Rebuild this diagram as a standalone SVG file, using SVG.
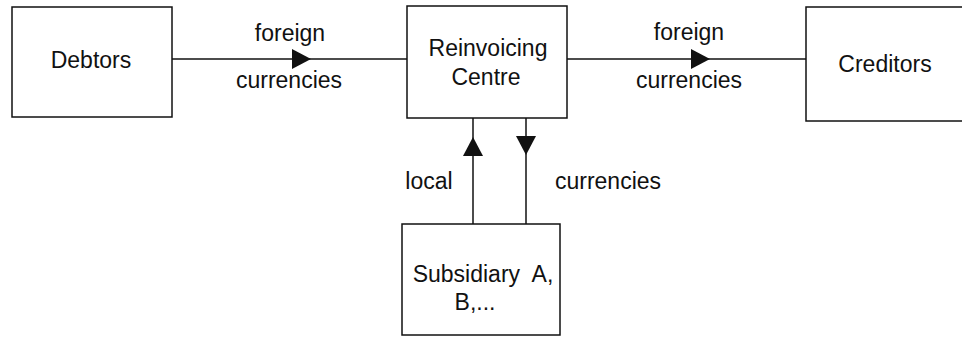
<svg xmlns="http://www.w3.org/2000/svg" width="962" height="337" viewBox="0 0 962 337">
<style>
.box{fill:#fff;stroke:#111;stroke-width:1.5}
.ln{fill:none;stroke:#111;stroke-width:1.5;marker-mid:url(#ah)}
text{font-family:"Liberation Sans",Arial,Helvetica,sans-serif;font-size:23px;fill:#111;text-anchor:middle}
</style>
<defs>
<marker id="ah" viewBox="0 0 19 20" refX="19" refY="10" markerWidth="19" markerHeight="20" markerUnits="userSpaceOnUse" orient="auto">
<path d="M0,0 L19,10 L0,20 z" fill="#111"/>
</marker>
</defs>
<rect width="962" height="337" fill="#fff"/>
<g id="connectors">
<path class="ln" d="M172,59 L311,59 L407,59"/>
<path class="ln" d="M567,59 L710,59 L806,59"/>
<path class="ln" d="M473,224 L473,137 L473,118"/>
<path class="ln" d="M526,118 L526,155 L526,224"/>
<text x="290" y="41">foreign</text>
<text x="289" y="88">currencies</text>
<text x="689" y="40">foreign</text>
<text x="689" y="88">currencies</text>
<text x="429" y="189">local</text>
<text x="608" y="189">currencies</text>
</g>
<g id="debtors">
<rect class="box" x="12" y="7" width="160" height="110"/>
<text x="91" y="68">Debtors</text>
</g>
<g id="reinvoicing-centre">
<rect class="box" x="407" y="6" width="160" height="112"/>
<text x="488" y="56">Reinvoicing</text>
<text x="486" y="85">Centre</text>
</g>
<g id="creditors">
<rect class="box" x="806" y="7" width="170" height="114"/>
<text x="885" y="72">Creditors</text>
</g>
<g id="subsidiary">
<rect class="box" x="402" y="224" width="158" height="111"/>
<text x="483" y="282" xml:space="preserve">Subsidiary  A,</text>
<text x="475" y="310">B,...</text>
</g>
</svg>
